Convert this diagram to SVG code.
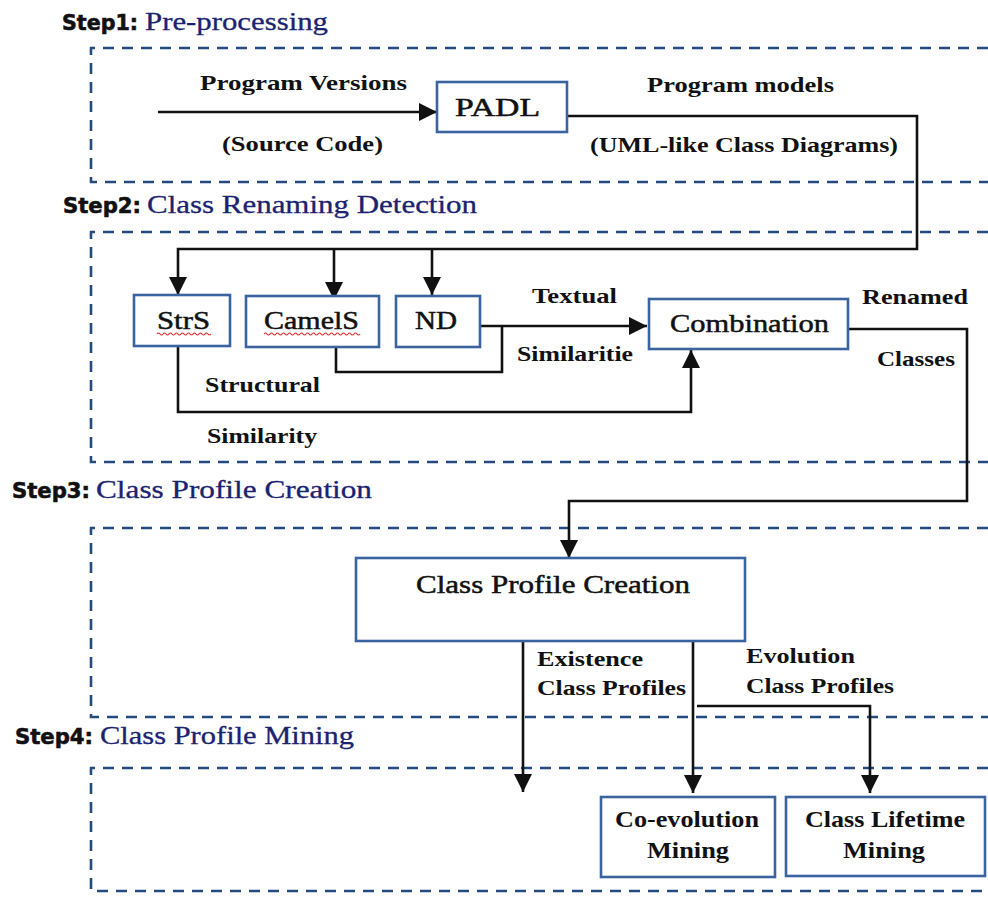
<svg xmlns="http://www.w3.org/2000/svg" width="988" height="897" viewBox="0 0 988 897">
<style>
.frame{fill:none;stroke:#254a80;stroke-width:2.6;stroke-dasharray:11 8}
.box{fill:#fff;stroke:#3b63a0;stroke-width:2.6}
.con{fill:none;stroke:#111;stroke-width:2.6}
.step{font-family:"DejaVu Sans","Liberation Sans",sans-serif;font-weight:bold;font-size:21px;fill:#111;stroke:#111;stroke-width:0.6}
.title{font-family:"Liberation Serif","Times New Roman",serif;font-size:26px;fill:#1b2370;stroke:#1b2370;stroke-width:0.3}
.lbl{font-family:"Liberation Serif","Times New Roman",serif;font-weight:bold;font-size:22px;fill:#111}
.node{font-family:"Liberation Serif","Times New Roman",serif;font-size:26px;fill:#111;stroke:#111;stroke-width:0.5}
.nodeb{font-family:"Liberation Serif","Times New Roman",serif;font-weight:bold;font-size:23px;fill:#111}
.squig{fill:none;stroke:#e03030;stroke-width:1.2}
</style>
<defs>
<marker id="ah" markerUnits="userSpaceOnUse" markerWidth="18" markerHeight="18" refX="18" refY="9" orient="auto">
<path d="M0,0 L18,9 L0,18 z" fill="#111"/>
</marker>
</defs>

<g id="frames">
<path class="frame" d="M988,48 H91 V182 H988"/>
<path class="frame" d="M988,232 H91 V462 H988"/>
<path class="frame" d="M988,528 H91 V717 H988"/>
<path class="frame" d="M988,768 H91 V891 H988"/>
</g>

<g id="step-labels">
<text class="step" x="62" y="30" textLength="76" lengthAdjust="spacingAndGlyphs">Step1:</text>
<text class="title" x="145" y="30" textLength="183" lengthAdjust="spacingAndGlyphs">Pre-processing</text>
<text class="step" x="63" y="213" textLength="78" lengthAdjust="spacingAndGlyphs">Step2:</text>
<text class="title" x="147" y="213" textLength="330" lengthAdjust="spacingAndGlyphs">Class Renaming Detection</text>
<text class="step" x="12" y="498" textLength="78" lengthAdjust="spacingAndGlyphs">Step3:</text>
<text class="title" x="96" y="498" textLength="276" lengthAdjust="spacingAndGlyphs">Class Profile Creation</text>
<text class="step" x="15" y="744" textLength="78" lengthAdjust="spacingAndGlyphs">Step4:</text>
<text class="title" x="100" y="744" textLength="254" lengthAdjust="spacingAndGlyphs">Class Profile Mining</text>
</g>

<g id="connectors">
<path class="con" d="M158,112 H437" marker-end="url(#ah)"/>
<path class="con" d="M567,116 H917 V249 H178 V295" marker-end="url(#ah)"/>
<path class="con" d="M334,249 V300" marker-end="url(#ah)"/>
<path class="con" d="M432,249 V295" marker-end="url(#ah)"/>
<path class="con" d="M480,326 H647" marker-end="url(#ah)"/>
<path class="con" d="M336,347 V372 H502 V326"/>
<path class="con" d="M178,346 V412 H691 V350" marker-end="url(#ah)"/>
<path class="con" d="M848,329 H967 V501 H569 V558" marker-end="url(#ah)"/>
<path class="con" d="M523,641 V792" marker-end="url(#ah)"/>
<path class="con" d="M693,641 V793" marker-end="url(#ah)"/>
<path class="con" d="M697,706 H870 V793" marker-end="url(#ah)"/>
</g>

<g id="edge-labels">
<text class="lbl" x="200" y="90" textLength="207" lengthAdjust="spacingAndGlyphs">Program Versions</text>
<text class="lbl" x="222" y="151" textLength="161" lengthAdjust="spacingAndGlyphs">(Source Code)</text>
<text class="lbl" x="647" y="92" textLength="187" lengthAdjust="spacingAndGlyphs">Program models</text>
<text class="lbl" x="590" y="152" textLength="308" lengthAdjust="spacingAndGlyphs">(UML-like Class Diagrams)</text>
<text class="lbl" x="532" y="303" textLength="85" lengthAdjust="spacingAndGlyphs">Textual</text>
<text class="lbl" x="517" y="361" textLength="116" lengthAdjust="spacingAndGlyphs">Similaritie</text>
<text class="lbl" x="205" y="392" textLength="115" lengthAdjust="spacingAndGlyphs">Structural</text>
<text class="lbl" x="207" y="443" textLength="110" lengthAdjust="spacingAndGlyphs">Similarity</text>
<text class="lbl" x="862" y="304" textLength="106" lengthAdjust="spacingAndGlyphs">Renamed</text>
<text class="lbl" x="877" y="366" textLength="78" lengthAdjust="spacingAndGlyphs">Classes</text>
<text class="lbl" x="537" y="666" textLength="106" lengthAdjust="spacingAndGlyphs">Existence</text>
<text class="lbl" x="537" y="695" textLength="149" lengthAdjust="spacingAndGlyphs">Class Profiles</text>
<text class="lbl" x="746" y="663" textLength="109" lengthAdjust="spacingAndGlyphs">Evolution</text>
<text class="lbl" x="746" y="693" textLength="148" lengthAdjust="spacingAndGlyphs">Class Profiles</text>
</g>

<g id="node-padl">
<rect class="box" x="437" y="82" width="130" height="50"/>
<text class="node" x="455" y="116" textLength="85" lengthAdjust="spacingAndGlyphs">PADL</text>
</g>
<g id="node-strs">
<rect class="box" x="134" y="295" width="96" height="51"/>
<text class="node" x="157" y="329" textLength="53" lengthAdjust="spacingAndGlyphs">StrS</text>
<path class="squig" d="M157,334 q1.5,-2 3,0 t3,0 t3,0 t3,0 t3,0 t3,0 t3,0 t3,0 t3,0 t3,0 t3,0 t3,0 t3,0 t3,0 t3,0 t3,0 t3,0 t3,0"/>
</g>
<g id="node-camels">
<rect class="box" x="246" y="296" width="133" height="51"/>
<text class="node" x="264" y="329" textLength="95" lengthAdjust="spacingAndGlyphs">CamelS</text>
<path class="squig" d="M264,334 q1.5,-2 3,0 t3,0 t3,0 t3,0 t3,0 t3,0 t3,0 t3,0 t3,0 t3,0 t3,0 t3,0 t3,0 t3,0 t3,0 t3,0 t3,0 t3,0 t3,0 t3,0 t3,0 t3,0 t3,0 t3,0 t3,0 t3,0 t3,0 t3,0 t3,0 t3,0 t3,0 t3,0"/>
</g>
<g id="node-nd">
<rect class="box" x="396" y="296" width="84" height="51"/>
<text class="node" x="415" y="329" textLength="42" lengthAdjust="spacingAndGlyphs">ND</text>
</g>
<g id="node-combination">
<rect class="box" x="649" y="299" width="199" height="50"/>
<text class="node" x="670" y="332" textLength="159" lengthAdjust="spacingAndGlyphs">Combination</text>
</g>
<g id="node-cpc">
<rect class="box" x="356" y="558" width="389" height="83"/>
<text class="node" x="416" y="593" textLength="274" lengthAdjust="spacingAndGlyphs">Class Profile Creation</text>
</g>
<g id="node-coevolution">
<rect class="box" x="601" y="797" width="174" height="80"/>
<text class="nodeb" x="615" y="827" textLength="144" lengthAdjust="spacingAndGlyphs">Co-evolution</text>
<text class="nodeb" x="647" y="858" textLength="82" lengthAdjust="spacingAndGlyphs">Mining</text>
</g>
<g id="node-lifetime">
<rect class="box" x="786" y="797" width="199" height="79"/>
<text class="nodeb" x="805" y="827" textLength="160" lengthAdjust="spacingAndGlyphs">Class Lifetime</text>
<text class="nodeb" x="843" y="858" textLength="82" lengthAdjust="spacingAndGlyphs">Mining</text>
</g>
</svg>
